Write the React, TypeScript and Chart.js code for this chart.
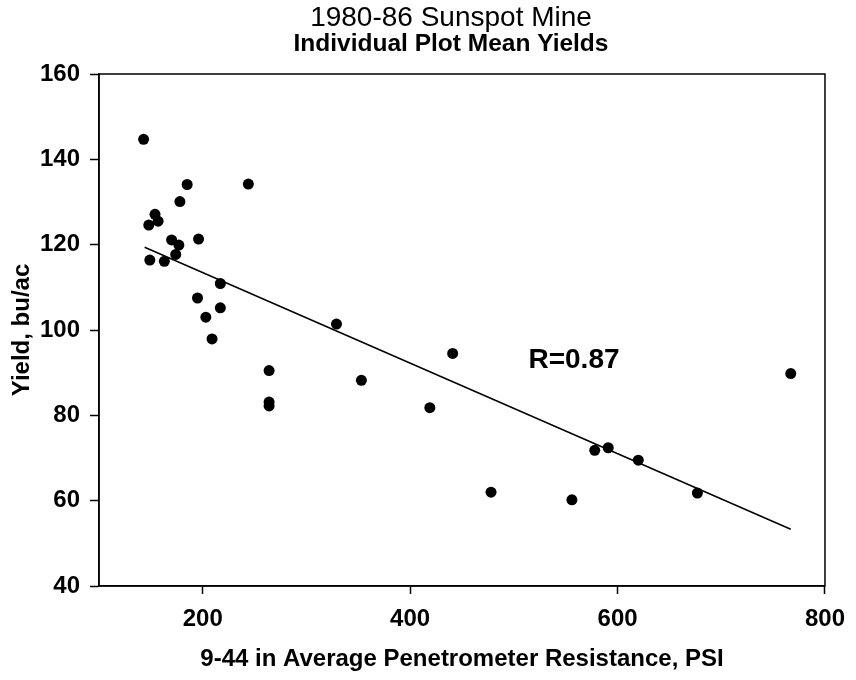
import React, { useEffect, useRef } from "react";
import { Chart, registerables } from "chart.js";

Chart.register(...registerables);

const TITLE = "1980-86 Sunspot Mine";
const SUBTITLE = "Individual Plot Mean Yields";
const X_TITLE = "9-44 in Average Penetrometer Resistance, PSI";
const Y_TITLE = "Yield, bu/ac";
const R_LABEL = "R=0.87";
const R_LABEL_X = 558;
const R_LABEL_Y = 92.8;

const resistance = [
  143, 185, 244, 178, 154, 157, 148, 170, 196, 177, 174, 149, 163, 217, 195, 203,
  209, 217, 264, 264, 264, 329, 353, 441, 419, 478, 556, 578, 591, 620, 677, 767,
];
const yieldValues = [
  144.7, 134.1, 134.2, 130.1, 127.1, 125.5, 124.6, 121.1, 121.3, 119.9, 117.7, 116.4,
  116.1, 110.9, 107.5, 103.0, 97.9, 105.2, 90.5, 83.1, 82.2, 101.4, 88.2, 94.5, 81.8,
  62.0, 60.2, 71.8, 72.4, 69.5, 61.8, 89.8,
];
const fitX = [144, 767];
const fitY = [119.4, 53.3];
const xTicks = [200, 400, 600, 800];
const yTicks = [40, 60, 80, 100, 120, 140, 160];

const FONT = "Arial, 'Liberation Sans', Helvetica, sans-serif";

const overlayPlugin = {
  id: "overlay",
  afterDraw(chart: any) {
    const { ctx, chartArea, scales } = chart;
    ctx.save();
    ctx.strokeStyle = "#000";
    ctx.lineWidth = 1.5;
    ctx.strokeRect(chartArea.left, chartArea.top, chartArea.right - chartArea.left, chartArea.bottom - chartArea.top);
    ctx.fillStyle = "#000";
    ctx.textAlign = "center";
    ctx.textBaseline = "middle";
    ctx.font = `normal 28px ${FONT}`;
    ctx.fillText(TITLE, 451, 18);
    ctx.font = `bold 24.5px ${FONT}`;
    ctx.fillText(SUBTITLE, 451, 44);
    ctx.font = `bold 28px ${FONT}`;
    ctx.fillText(R_LABEL, scales.x.getPixelForValue(R_LABEL_X), scales.y.getPixelForValue(R_LABEL_Y));
    ctx.restore();
  },
};

export default function App() {
  const ref = useRef<HTMLCanvasElement | null>(null);

  useEffect(() => {
    document.body.style.margin = "0";
    const canvas = ref.current;
    if (!canvas) return;
    const points = resistance.map((x, i) => ({ x, y: yieldValues[i] }));
    const fit = fitX.map((x, i) => ({ x, y: fitY[i] }));
    const chart = new Chart(canvas, {
      type: "scatter",
      data: {
        datasets: [
          {
            label: "Plots",
            data: points,
            backgroundColor: "#000",
            borderColor: "#000",
            pointRadius: 5.5,
            pointHoverRadius: 5.5,
            borderWidth: 0,
          },
          {
            label: "Fit",
            data: fit,
            showLine: true,
            borderColor: "#000",
            borderWidth: 1.5,
            pointRadius: 0,
            fill: false,
          },
        ],
      },
      options: {
        responsive: false,
        animation: false,
        events: [],
        layout: { padding: { top: 74, right: 23, left: 0, bottom: 0 } },
        plugins: {
          legend: { display: false },
          tooltip: { enabled: false },
          title: { display: false },
        },
        scales: {
          x: {
            type: "linear",
            min: 100,
            max: 800,
            afterBuildTicks: (scale: any) => {
              scale.ticks = xTicks.map((v) => ({ value: v }));
            },
            afterFit: (scale: any) => {
              scale.height = 94;
            },
            grid: {
              drawOnChartArea: false,
              drawTicks: true,
              tickLength: 8,
              tickWidth: 1.5,
              tickColor: "#000",
              color: "#000",
            },
            border: { display: true, color: "#000", width: 1.5 },
            ticks: {
              color: "#000",
              padding: 11,
              maxRotation: 0,
              font: { family: FONT, size: 24, weight: "bold" },
            },
            title: {
              display: true,
              text: X_TITLE,
              color: "#000",
              font: { family: FONT, size: 24, weight: "bold" },
              padding: { top: 0, bottom: 6 },
            },
          },
          y: {
            type: "linear",
            min: 40,
            max: 160,
            afterBuildTicks: (scale: any) => {
              scale.ticks = yTicks.map((v) => ({ value: v }));
            },
            afterFit: (scale: any) => {
              scale.width = 99;
            },
            grid: {
              drawOnChartArea: false,
              drawTicks: true,
              tickLength: 9,
              tickWidth: 1.5,
              tickColor: "#000",
              color: "#000",
            },
            border: { display: true, color: "#000", width: 1.5 },
            ticks: {
              color: "#000",
              padding: 10,
              font: { family: FONT, size: 24, weight: "bold" },
            },
            title: {
              display: true,
              text: Y_TITLE,
              color: "#000",
              font: { family: FONT, size: 24, weight: "bold" },
              padding: { top: 8, bottom: 0 },
            },
          },
        },
      },
      plugins: [overlayPlugin],
    });
    return () => chart.destroy();
  }, []);

  return <canvas ref={ref} width={856} height={680} style={{ display: "block", width: 856, height: 680 }} />;
}
